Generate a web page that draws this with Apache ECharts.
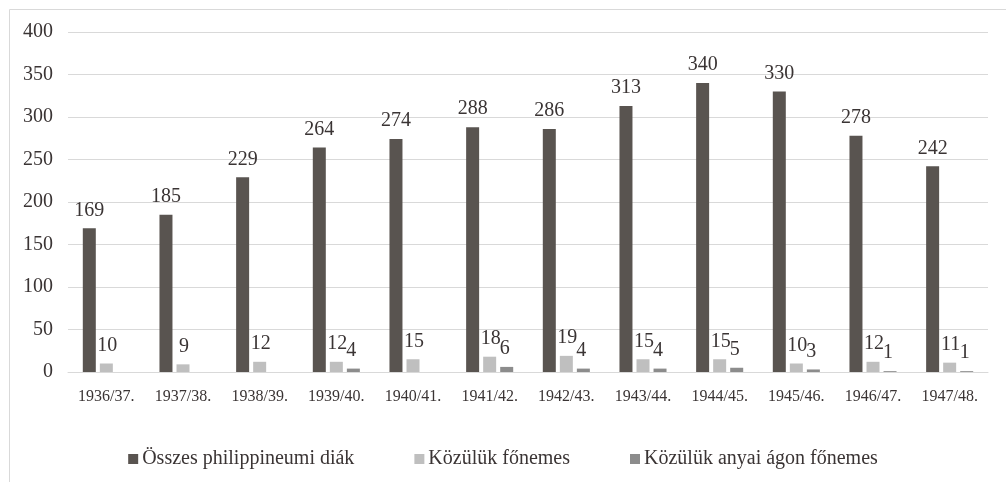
<!DOCTYPE html>
<html><head><meta charset="utf-8">
<script src="https://cdn.jsdelivr.net/npm/echarts@6/dist/echarts.min.js"></script>
<style>html,body{margin:0;padding:0;background:#fff}#c{width:1006px;height:482px}</style>
</head><body><div id="c"></div>
<script>
const categories = ['1936/37.','1937/38.','1938/39.','1939/40.','1940/41.','1941/42.','1942/43.','1943/44.','1944/45.','1945/46.','1946/47.','1947/48.'];
const osszes = [169,185,229,264,274,288,286,313,340,330,278,242];
const fonemes = [10,9,12,12,15,18,19,15,15,10,12,11];
const anyai = [null,null,null,4,null,6,4,4,5,3,1,1];
const seriesNames = ['Összes philippineumi diák','Közülük főnemes','Közülük anyai ágon főnemes'];
const yTicks = {min:0,max:400,interval:50};

const FONT = "'Liberation Serif', 'DejaVu Serif', serif";
const TXT = '#3a3434';
const chart = echarts.init(document.getElementById('c'), null, {renderer:'canvas'});
const lbl = {show:true, position:'top', distance:8, color:TXT, fontFamily:FONT, fontSize:20};
chart.setOption({
  animation:false,
  graphic:[{type:'rect', shape:{x:9.5,y:9.5,width:1000,height:480}, style:{fill:'none',stroke:'#D9D9D9',lineWidth:1}}],
  grid:{left:68,right:18,top:32,bottom:110,containLabel:false},
  legend:{top:444,left:'center', itemWidth:10,itemHeight:10,itemGap:60, icon:'rect',
    textStyle:{color:TXT,fontFamily:FONT,fontSize:20,padding:[0,0,0,-1]}},
  xAxis:{type:'category',data:categories,axisLine:{lineStyle:{color:'#D9D9D9',width:1}},axisTick:{show:false},
    axisLabel:{color:TXT,fontFamily:FONT,fontSize:16,margin:17}},
  yAxis:{type:'value',min:yTicks.min,max:yTicks.max,interval:yTicks.interval,
    splitLine:{lineStyle:{color:'#D9D9D9',width:1}},axisLine:{show:false},axisTick:{show:false},
    axisLabel:{color:TXT,fontFamily:FONT,fontSize:20,margin:15}},
  series:[
    {name:seriesNames[0],type:'bar',data:osszes,barWidth:13,barGap:'31%',itemStyle:{color:'#595450'},label:lbl},
    {name:seriesNames[1],type:'bar',data:fonemes,barWidth:13,barGap:'31%',itemStyle:{color:'#BFBFBF'},label:Object.assign({},lbl,{offset:[1,0]})},
    {name:seriesNames[2],type:'bar',data:anyai,barWidth:13,barGap:'31%',itemStyle:{color:'#8C8C8C'},label:Object.assign({},lbl,{offset:[-2,0]})}
  ]
});
</script></body></html>
